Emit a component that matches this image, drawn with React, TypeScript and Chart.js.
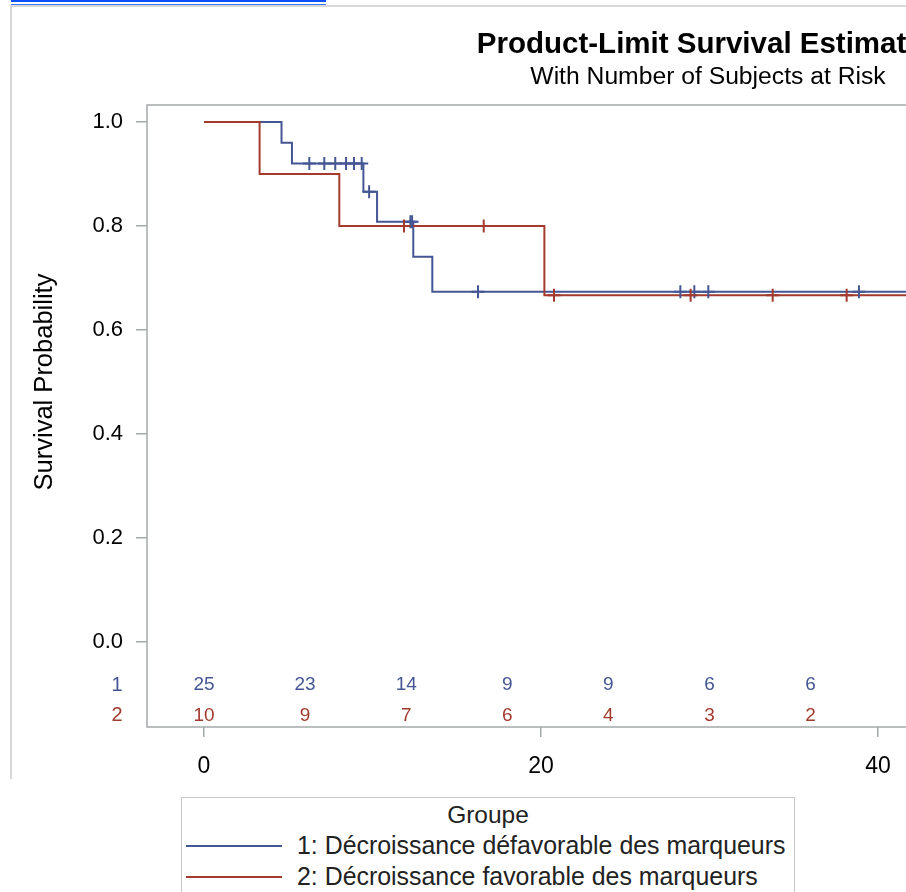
import React, { useEffect, useRef } from "react";
import { Chart, registerables } from "chart.js";

Chart.register(...registerables);

const FONT = '"Liberation Sans", Arial, sans-serif';
const BLUE = "#445694";
const RED = "#A23A2E";
const AXIS = "#a4a9a9";

const titleText = "Product-Limit Survival Estimates";
const subtitleText = "With Number of Subjects at Risk";
const yAxisTitle = "Survival Probability";
const legendTitle = "Groupe";
const groupKeys = ["1", "2"];
const groupLabels = [
  "1: Décroissance défavorable des marqueurs",
  "2: Décroissance favorable des marqueurs",
];

const xTicks = [0, 20, 40];
const yTicks = [0, 0.2, 0.4, 0.6, 0.8, 1.0];

// Group 1 (Décroissance défavorable)
const g1Times = [0, 4.6, 5.22, 9.46, 10.27, 12.42, 13.55, 45];
const g1Surv = [1, 0.96, 0.92, 0.866, 0.808, 0.741, 0.6735, 0.6735];
const g1Censor = [6.25, 7.14, 7.79, 8.43, 8.9, 9.36, 9.8, 12.25, 12.35, 16.26, 28.27, 29.1, 29.93, 38.87];

// Group 2 (Décroissance favorable)
const g2Times = [0, 3.3, 8.03, 20.2, 45];
const g2Surv = [1, 0.9, 0.8, 0.6667, 0.6667];
const g2Censor = [11.87, 16.6, 20.77, 28.88, 33.75, 38.14];

// Number at risk
const riskTimes = [0, 6, 12, 18, 24, 30, 36];
const g1Risk = [25, 23, 14, 9, 9, 6, 6];
const g2Risk = [10, 9, 7, 6, 4, 3, 2];

const COLORS = [BLUE, RED];
const RISK_ROW_VALUES = [-0.083, -0.141];
const TITLE_X = 708;

function survivalAt(times: number[], surv: number[], t: number) {
  let v = surv[0];
  for (let i = 0; i < times.length; i++) if (times[i] <= t) v = surv[i];
  return v;
}

const decorPlugin = {
  id: "kmDecor",
  beforeDatasetsDraw(chart: any) {
    const { ctx, chartArea: a } = chart;
    ctx.save();
    ctx.strokeStyle = AXIS;
    ctx.lineWidth = 1.5;
    ctx.strokeRect(a.left, a.top, a.right - a.left, a.bottom - a.top);
    ctx.restore();
  },
  afterDraw(chart: any) {
    const { ctx, chartArea: a, scales } = chart;
    const xs = scales.x;
    const ys = scales.y;
    ctx.save();
    ctx.textAlign = "center";
    ctx.textBaseline = "middle";
    ctx.fillStyle = "#000";
    ctx.font = `bold 29.5px ${FONT}`;
    ctx.fillText(titleText, TITLE_X, 45);
    ctx.font = `24.7px ${FONT}`;
    ctx.fillText(subtitleText, TITLE_X, 77);

    ctx.save();
    ctx.translate(45, (ys.getPixelForValue(0) + ys.getPixelForValue(1)) / 2);
    ctx.rotate(-Math.PI / 2);
    ctx.font = `25.5px ${FONT}`;
    ctx.fillStyle = "#000";
    ctx.fillText(yAxisTitle, 0, 0);
    ctx.restore();

    const rows = [g1Risk, g2Risk];
    rows.forEach((row, r) => {
      const y = ys.getPixelForValue(RISK_ROW_VALUES[r]);
      ctx.fillStyle = COLORS[r];
      ctx.font = `20px ${FONT}`;
      ctx.fillText(groupKeys[r], a.left - 30, y);
      ctx.font = `19px ${FONT}`;
      row.forEach((n, i) => {
        ctx.fillText(String(n), xs.getPixelForValue(riskTimes[i]), y);
      });
    });
    ctx.restore();
  },
};

export default function App() {
  const ref = useRef<HTMLCanvasElement | null>(null);

  useEffect(() => {
    if (!ref.current) return;
    const line = (times: number[], surv: number[]) =>
      times.map((t, i) => ({ x: t, y: surv[i] }));
    const cens = (c: number[], times: number[], surv: number[]) =>
      c.map((t) => ({ x: t, y: survivalAt(times, surv, t) }));

    const chart = new Chart(ref.current, {
      type: "scatter",
      data: {
        datasets: [
          {
            label: groupLabels[1] + " censored",
            data: cens(g2Censor, g2Times, g2Surv),
            pointStyle: "cross",
            pointRadius: 6.5,
            pointBorderWidth: 2,
            borderColor: RED,
            backgroundColor: RED,
            showLine: false,
            order: 0,
          },
          {
            label: groupLabels[0] + " censored",
            data: cens(g1Censor, g1Times, g1Surv),
            pointStyle: "cross",
            pointRadius: 6.5,
            pointBorderWidth: 2,
            borderColor: BLUE,
            backgroundColor: BLUE,
            showLine: false,
            order: 1,
          },
          {
            label: groupLabels[1],
            data: line(g2Times, g2Surv),
            showLine: true,
            stepped: "before",
            borderColor: RED,
            borderWidth: 2,
            pointRadius: 0,
            fill: false,
            order: 2,
          },
          {
            label: groupLabels[0],
            data: line(g1Times, g1Surv),
            showLine: true,
            stepped: "before",
            borderColor: BLUE,
            borderWidth: 2,
            pointRadius: 0,
            fill: false,
            order: 3,
          },
        ],
      } as any,
      options: {
        animation: false,
        responsive: true,
        maintainAspectRatio: false,
        layout: { padding: { left: 31, top: 105, right: 53.5, bottom: 0 } },
        plugins: {
          legend: { display: false },
          tooltip: { enabled: false },
          title: { display: false },
        },
        scales: {
          x: {
            type: "linear",
            min: -3.383,
            max: 50,
            afterBuildTicks: (s: any) => {
              s.ticks = xTicks.map((v) => ({ value: v }));
            },
            afterFit: (s: any) => {
              s.height = 53;
            },
            grid: {
              display: true,
              drawOnChartArea: false,
              drawTicks: true,
              tickLength: 10,
              color: AXIS,
              lineWidth: 1.5,
            },
            border: { display: false },
            ticks: {
              color: "#000",
              padding: 16,
              maxRotation: 0,
              font: { family: FONT, size: 23 },
            },
          },
          y: {
            type: "linear",
            min: -0.1635,
            max: 1.0327,
            afterBuildTicks: (s: any) => {
              s.ticks = yTicks.map((v) => ({ value: v }));
            },
            afterFit: (s: any) => {
              s.width = 116;
            },
            grid: {
              display: true,
              drawOnChartArea: false,
              drawTicks: true,
              tickLength: 11,
              color: AXIS,
              lineWidth: 1.5,
            },
            border: { display: false },
            ticks: {
              color: "#000",
              padding: 13,
              font: { family: FONT, size: 22 },
              callback: (v: any) => Number(v).toFixed(1),
            },
          },
        },
      } as any,
      plugins: [decorPlugin as any],
    });
    return () => chart.destroy();
  }, []);

  return (
    <div
      style={{
        position: "absolute",
        left: 0,
        top: 0,
        width: 906,
        height: 892,
        overflow: "hidden",
        background: "#fff",
      }}
    >
      <div style={{ position: "absolute", left: 0, top: 0, width: 1100, height: 780 }}>
        <canvas ref={ref} />
      </div>
      <div style={{ position: "absolute", left: 11, top: 0, width: 315, height: 2, background: "#0a50ff" }} />
      <div style={{ position: "absolute", left: 11, top: 4, width: 315, height: 1, background: "#3a74ff" }} />
      <div style={{ position: "absolute", left: 10, top: 5, width: 896, height: 2, background: "#d8d8d8" }} />
      <div style={{ position: "absolute", left: 10, top: 5, width: 2, height: 774, background: "#d8d8d8" }} />
      <div
        style={{
          position: "absolute",
          left: 181,
          top: 797,
          width: 614,
          height: 130,
          border: "1px solid #c8c8c8",
          boxSizing: "border-box",
          fontFamily: FONT,
          color: "#222",
          background: "#fff",
        }}
      >
        <div style={{ textAlign: "center", fontSize: 24.5, lineHeight: "30px", marginTop: 2 }}>
          {legendTitle}
        </div>
        {groupLabels.map((lab, i) => (
          <div key={lab} style={{ display: "flex", alignItems: "center", height: 31 }}>
            <div style={{ marginLeft: 4, width: 96, height: 2, background: COLORS[i] }} />
            <span style={{ marginLeft: 15, fontSize: 24.9, whiteSpace: "nowrap" }}>{lab}</span>
          </div>
        ))}
      </div>
    </div>
  );
}
